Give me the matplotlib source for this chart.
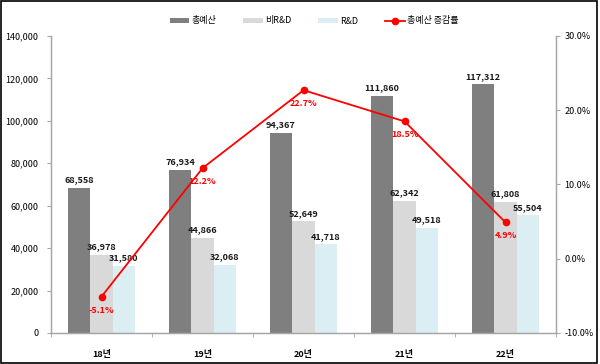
import matplotlib
matplotlib.use("Agg")
import matplotlib.pyplot as plt
import numpy as np
from matplotlib.ticker import FuncFormatter, FixedLocator
from matplotlib.patches import Rectangle

plt.rcParams['font.family'] = ['Noto Sans CJK KR', 'DejaVu Sans']

categories = ['18년', '19년', '20년', '21년', '22년']
total = [68558, 76934, 94367, 111860, 117312]
non_rd = [36978, 44866, 52649, 62342, 61808]
rd = [31580, 32068, 41718, 49518, 55504]
growth = [-5.1, 12.2, 22.7, 18.5, 4.9]

c_total = '#7f7f7f'
c_non = '#d9d9d9'
c_rd = '#daeef3'
c_red = '#ff0000'

fig = plt.figure(figsize=(6.0, 3.64), dpi=100)
ax = fig.add_axes([51/600, 1-333/364, 505/600, 297/364])
ax2 = ax.twinx()

x = np.arange(len(categories))
w = 0.223
b1 = ax.bar(x - w, total, w, color=c_total, label='총예산', zorder=2)
b2 = ax.bar(x, non_rd, w, color=c_non, label='비R&D', zorder=2)
b3 = ax.bar(x + w, rd, w, color=c_rd, label='R&D', zorder=2)

for bars in (b1, b2, b3):
    for r in bars:
        h = r.get_height()
        ax.annotate(f'{int(h):,}', (r.get_x() + r.get_width()/2, h),
                    xytext=(0, 2.5), textcoords='offset points',
                    ha='center', va='bottom', fontsize=6.5, fontweight='bold',
                    color='#1a1a1a')

ln, = ax2.plot(x, growth, color=c_red, marker='o', markersize=4.5, lw=1.3,
               label='총예산 증감률', zorder=5)
for xi, g in zip(x, growth):
    ax2.annotate(f'{g:.1f}%', (xi, g), xytext=(0, -6.5), textcoords='offset points',
                 ha='center', va='top', fontsize=6.5, fontweight='bold', color=c_red)

ax.set_xlim(-0.5, len(categories) - 0.5)
ax.set_ylim(0, 140000)
ax2.set_ylim(-10, 30)
ax.set_yticks(np.arange(0, 140001, 20000))
ax2.set_yticks(np.arange(-10, 31, 10))
ax.yaxis.set_major_formatter(FuncFormatter(lambda v, p: f'{int(v):,}'))
ax2.yaxis.set_major_formatter(FuncFormatter(lambda v, p: f'{v:.1f}%'))

ax.set_xticks(x)
ax.set_xticklabels(categories, fontsize=6.5, fontweight='bold')
ax.xaxis.set_minor_locator(FixedLocator(np.arange(-0.5, len(categories), 1.0)))
ax.tick_params(axis='x', which='major', length=0, pad=12)
ax.tick_params(axis='x', which='minor', length=3, direction='out', color='#a6a6a6')
ax.tick_params(axis='y', length=3, direction='out', color='#a6a6a6', labelsize=6.5, pad=6)
ax2.tick_params(axis='y', length=3, direction='out', color='#a6a6a6', labelsize=6.5, pad=3)

for a in (ax, ax2):
    a.spines['top'].set_visible(False)
    for s in ('left', 'right', 'bottom'):
        a.spines[s].set_color('#a6a6a6')
        a.spines[s].set_linewidth(0.9)
ax.patch.set_visible(False)

handles = [b1, b2, b3, ln]
labels = ['총예산', '비R&D', 'R&D', '총예산 증감률']
fig.legend(handles, labels, loc='center', bbox_to_anchor=(0.523, 1 - 21/364),
           ncol=4, frameon=False, fontsize=6.5, handlelength=2.2, handleheight=0.5,
           columnspacing=3.0, handletextpad=0.2)

fig.patches.append(Rectangle((0.002, 0.003), 0.993, 0.994, transform=fig.transFigure,
                             fill=False, edgecolor='black', linewidth=1.2))

fig.savefig('out.png', dpi=100)
